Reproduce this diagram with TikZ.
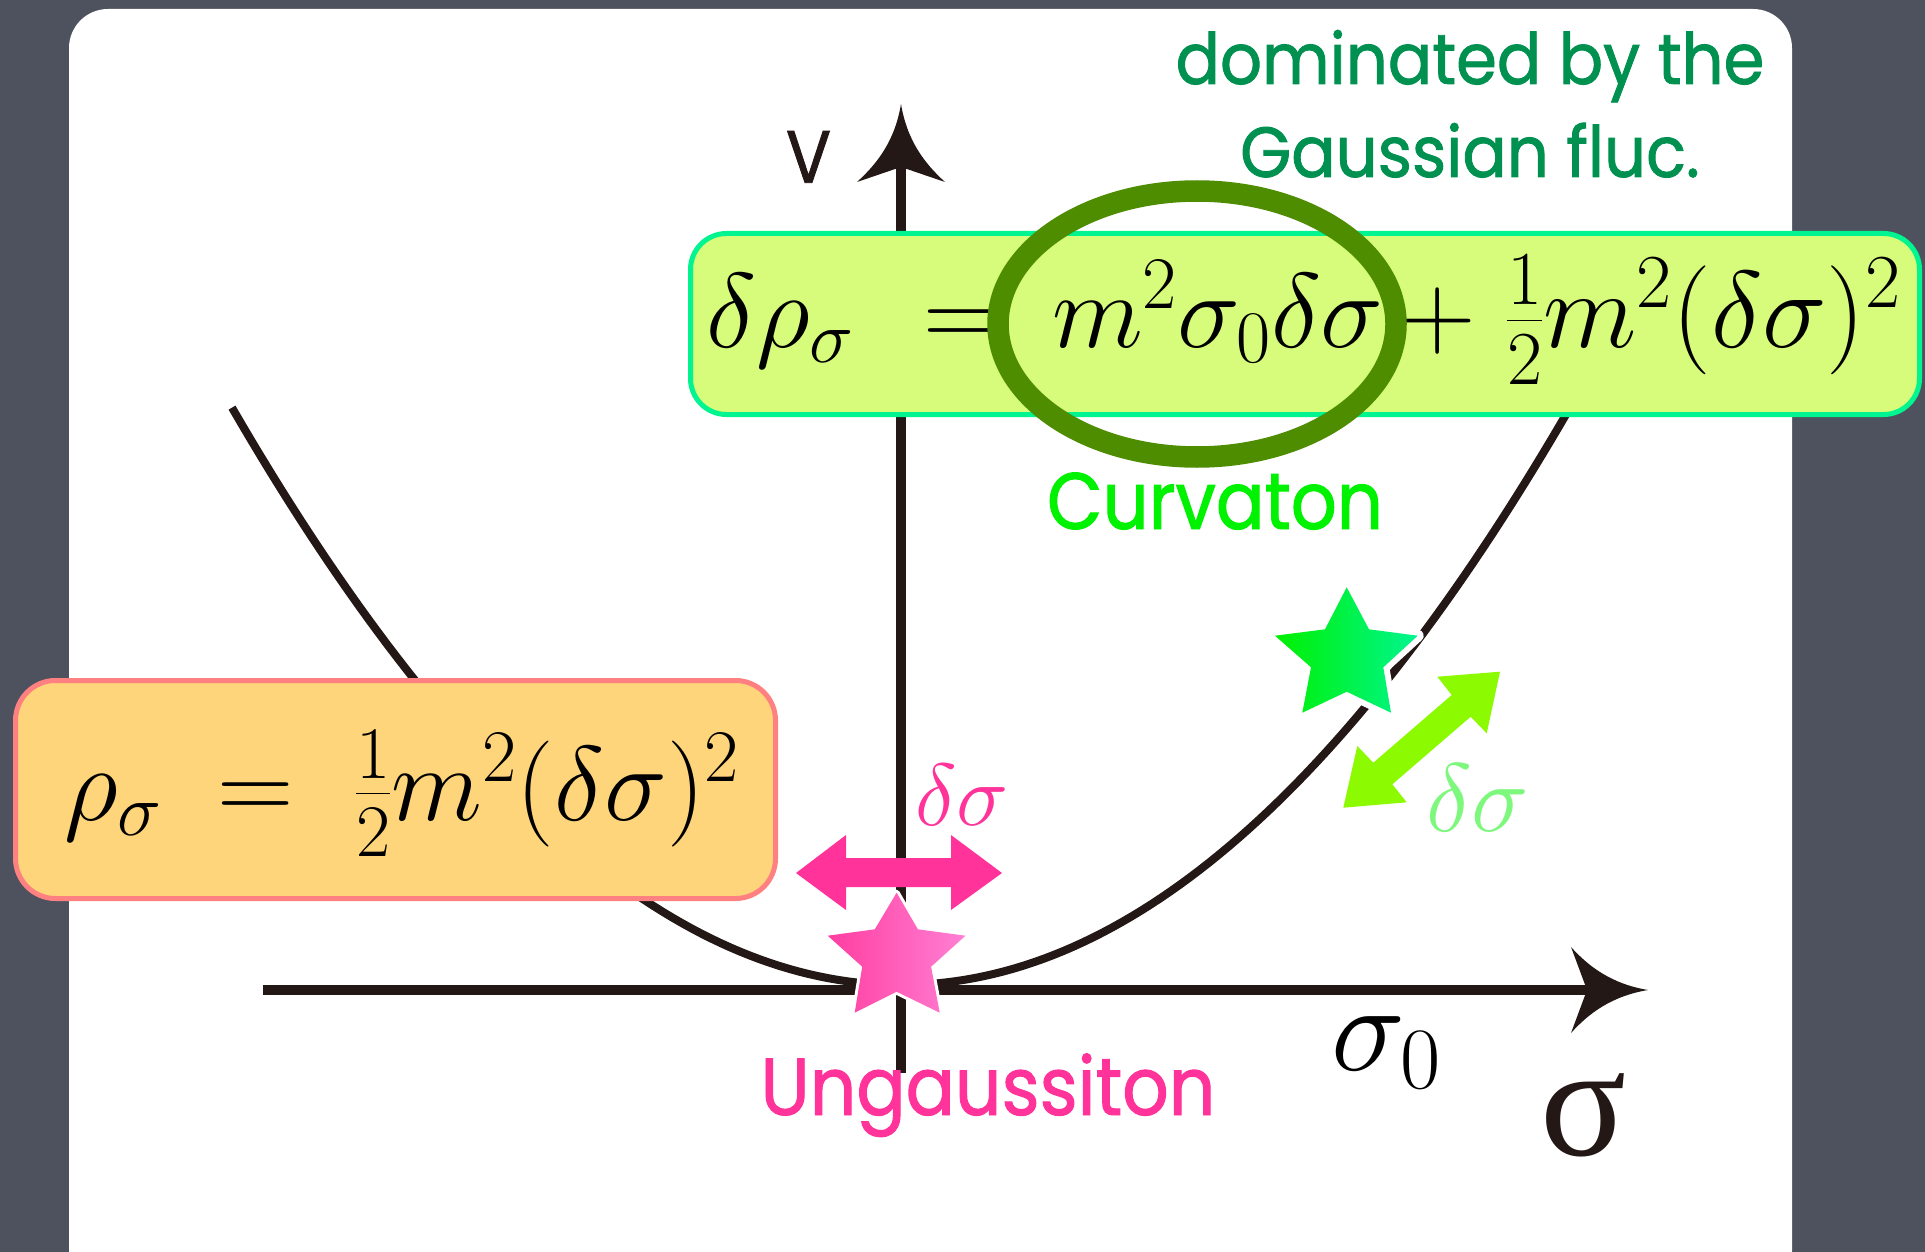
\RequirePackage{fix-cm}
\documentclass[tikz,border=0pt]{standalone}
\usepackage{fontspec}
\newfontfamily\comic[FakeStretch=0.9, FakeBold=1.2]{Poppins}
\newfontfamily\comictop[FakeStretch=0.925, FakeBold=1.2]{Poppins}
\newfontfamily\timesf{Liberation Serif}
\definecolor{bg}{HTML}{4E525E}
\definecolor{ink}{HTML}{231815}
\definecolor{teal}{HTML}{009150}
\definecolor{curvgreen}{HTML}{00F200}
\definecolor{hotpink}{HTML}{FF3399}
\definecolor{ellgreen}{HTML}{4E8C00}
\definecolor{gfill}{HTML}{D7FB7B}
\definecolor{gborder}{HTML}{00F590}
\definecolor{ofill}{HTML}{FED57A}
\definecolor{oborder}{HTML}{FF8080}
\definecolor{garrow}{HTML}{8CFA00}
\definecolor{lgreen}{HTML}{7DF87D}
\definecolor{pinkA}{HTML}{FF3EA0}
\definecolor{pinkB}{HTML}{FF80D4}
\definecolor{starA}{HTML}{00F000}
\definecolor{starB}{HTML}{00F590}
\tikzset{
  axisline/.style={draw=ink, line width=9.3pt},
  curveline/.style={draw=ink, line width=8pt},
  headfill/.style={fill=ink},
  eqbox/.style={line width=5pt, rounded corners=36pt},
  comictext/.style={inner sep=0pt, anchor=base},
  mathtext/.style={inner sep=0pt, anchor=base west, font=\fontsize{106}{120}\selectfont},
  mathmid/.style={inner sep=0pt, anchor=base, font=\fontsize{106}{120}\selectfont},
  halo/.style={draw=white, fill=white, line join=round},
}
\begin{document}
\begin{tikzpicture}[x=1pt,y=-1pt]
\useasboundingbox (0,0) rectangle (1925,1252);
\fill[bg] (0,0) rectangle (1925,1252);
\fill[white, rounded corners=39pt] (69,9) rectangle (1792,1290);

% axes
\coordinate (vb) at (901,1073);
\coordinate (vn) at (901,167);
\coordinate (hl) at (263,990);
\coordinate (hn) at (1588,990);
\draw[axisline] (vb) -- (vn);
\draw[axisline] (hl) -- (hn);
\fill[headfill] (901,104) .. controls (895,140) and (878,163) .. (857,182) -- (901,167) -- (945,182) .. controls (924,163) and (907,140) .. (901,104) -- cycle;
\fill[headfill] (1648,990) .. controls (1612,984) and (1589,967) .. (1571,947) -- (1587,990) -- (1571,1033) .. controls (1589,1013) and (1612,996) .. (1648,990) -- cycle;

% potential curve
\draw[curveline] plot[domain=-669:690, samples=140] ({901+\x},{985-12.9*(\x/100)*(\x/100)});

% boxes
\draw[eqbox, draw=gborder, fill=gfill] (690.5,233.5) rectangle (1919.5,414.5);
\draw[eqbox, draw=oborder, fill=ofill, rounded corners=40pt] (15.5,680.5) rectangle (775.5,898.5);

% formula in the green box
\node[mathtext] (f1a) at (706,347) {$\delta\rho_\sigma$};
\node[mathmid] (f1b) at (962,347) {$=$};
\node[mathtext] (f1c) at (1052,347) {$m^2\sigma_0\delta\sigma$};
\node[mathmid] (f1d) at (1438,347) {$+$};
\node[mathtext, font=\fontsize{109}{120}\selectfont] (f1e) at (1506,347) {$\frac{1}{2}m^2(\delta\sigma)^2$};
% formula in the orange box
\node[mathtext] (f2a) at (64,820) {$\rho_\sigma$};
\node[mathmid] (f2b) at (256,820) {$=$};
\node[mathtext] (f2c) at (355,820) {$\frac{1}{2}m^2(\delta\sigma)^2$};

% ellipse
\draw[ellgreen, line width=21.5pt] (1197,324) ellipse [x radius=199pt, y radius=133pt];

% green star
\path[halo, line width=12pt]
  (1346.7,587.3) -- (1369,629.3) -- (1417.7,635.7) -- (1383.3,667.3) -- (1391,712.7)
  -- (1346.7,691.7) -- (1302.3,712.7) -- (1311,667.3) -- (1275,635.7) -- (1325,629.3) -- cycle;
\shade[left color=starA, right color=starB]
  (1346.7,587.3) -- (1369,629.3) -- (1417.7,635.7) -- (1383.3,667.3) -- (1391,712.7)
  -- (1346.7,691.7) -- (1302.3,712.7) -- (1311,667.3) -- (1275,635.7) -- (1325,629.3) -- cycle;

% green double arrow
\fill[garrow] (1500,671.7) -- (1437.3,676.7) -- (1451.7,695) -- (1373.3,762.7) -- (1357.3,746)
  -- (1343.3,807.7) -- (1406.7,802.3) -- (1392.3,784.3) -- (1470.7,716.7) -- (1486.7,733.3) -- cycle;

% pink double arrow
\fill[hotpink] (796,873) -- (846,835) -- (846,858) -- (951,858) -- (951,835) -- (1002,873)
  -- (951,910) -- (951,887) -- (846,887) -- (846,910) -- cycle;

% pink star
\path[halo, line width=6pt]
  (896.6,892.7) -- (917.9,929.3) -- (965.5,935.7) -- (931.1,966.7) -- (939.7,1012.7)
  -- (896.6,991.7) -- (854.7,1012.7) -- (862.2,966.7) -- (827.7,935.7) -- (874.8,929.3) -- cycle;
\shade[left color=pinkA, right color=pinkB]
  (896.6,892.7) -- (917.9,929.3) -- (965.5,935.7) -- (931.1,966.7) -- (939.7,1012.7)
  -- (896.6,991.7) -- (854.7,1012.7) -- (862.2,966.7) -- (827.7,935.7) -- (874.8,929.3) -- cycle;

% labels
\node[inner sep=0pt, anchor=base west, text=hotpink, font=\fontsize{88}{96}\selectfont] (dsp) at (915,825) {$\delta\sigma$};
\node[inner sep=0pt, anchor=base west, text=lgreen, font=\fontsize{97}{106}\selectfont] (dsg) at (1426,831) {$\delta\sigma$};
\node[inner sep=0pt, anchor=base west, text=black, font=\fontsize{125}{135}\selectfont] (s0) at (1331,1070) {$\sigma_0$};
\node[inner sep=0pt, anchor=base west, text=ink, font=\timesf\fontsize{160}{170}\selectfont] (sig) at (1540,1155) {σ};

\node[comictext, text=ink, font=\comic\fontsize{74}{80}\selectfont] (vlab) at (808.5,182.7) {V};
\node[comictext, text=curvgreen, font=\comic\fontsize{80}{90}\selectfont] (curv) at (1215,529) {Curvaton};
\node[comictext, text=hotpink, font=\comic\fontsize{81}{90}\selectfont] (ung) at (988,1115) {Ungaussiton};
\node[comictext, text=teal, font=\comictop\fontsize{71}{80}\selectfont] (dom1) at (1470,84) {dominated by the};
\node[comictext, text=teal, font=\comictop\fontsize{71}{80}\selectfont] (dom2) at (1470,177) {Gaussian fluc.};
\end{tikzpicture}
\end{document}
